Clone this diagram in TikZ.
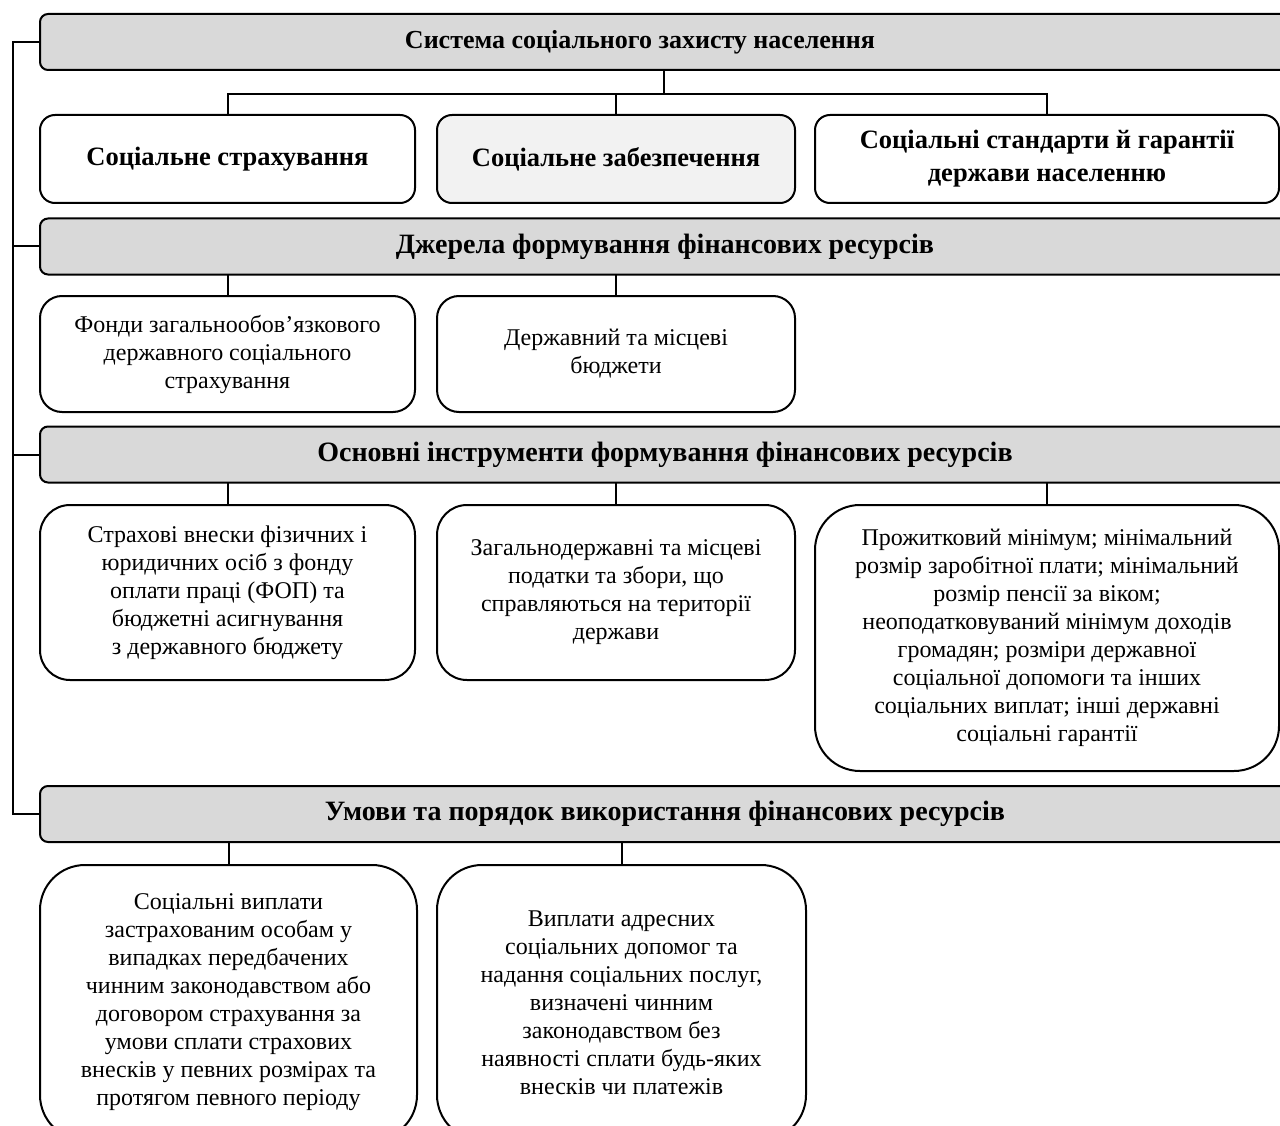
\documentclass[tikz,border=0pt]{standalone}
\usepackage{fontspec}
\setmainfont{Liberation Serif}
\definecolor{bargray}{HTML}{D9D9D9}
\definecolor{palegray}{HTML}{F2F2F2}
\begin{document}
\begin{tikzpicture}[x=1pt,y=-1pt,
  line width=2pt,
  bar/.style={draw=black, fill=bargray, rounded corners=8pt, inner sep=0pt, outer sep=0pt,
    minimum width=1250pt, minimum height=56pt, font=\fontsize{28}{32}\selectfont\bfseries},
  box/.style={draw=black, fill=white, inner sep=0pt, outer sep=0pt, align=center,
    font=\fontsize{24}{28}\selectfont},
  headbox/.style={box, rounded corners=15pt, minimum height=88pt,
    font=\fontsize{26.5}{33}\selectfont\bfseries},
  conn/.style={draw=black, line width=2pt}
]
\useasboundingbox (0,0) rectangle (1280,1126);
\fill[white] (0,0) rectangle (1280,1126);
\clip (0,0) rectangle (1280,1126);

% header bars
\node[bar, font=\fontsize{26}{30}\selectfont\bfseries] (bar1) at (665,42) {\hspace*{-50pt}Система соціального захисту населення};
\node[bar] (bar2) at (665,246.5) {Джерела формування фінансових ресурсів};
\node[bar] (bar3) at (665,454.5) {Основні інструменти формування фінансових ресурсів};
\node[bar] (bar4) at (665,814) {Умови та порядок використання фінансових ресурсів};

% row 1
\node[headbox, minimum width=375pt] (r1a) at (227.5,159) {Соціальне страхування};
\node[headbox, fill=palegray, minimum width=358pt] (r1b) at (616,159) {Соціальне забезпечення};
\node[headbox, minimum width=464pt] (r1c) at (1047,159) {Соціальні стандарти й гарантії\\держави населенню};

% row 2
\node[box, rounded corners=22pt, minimum width=375pt, minimum height=116pt] (r2a) at (227.5,354) {Фонди загальнообов’язкового\\державного соціального\\страхування};
\node[box, rounded corners=22pt, minimum width=358pt, minimum height=116pt] (r2b) at (616,354) {Державний та місцеві\\бюджети};

% row 3
\node[box, rounded corners=30pt, minimum width=375pt, minimum height=175pt] (r3a) at (227.5,592.5) {Страхові внески фізичних і\\юридичних осіб з фонду\\оплати праці (ФОП) та\\бюджетні асигнування\\з державного бюджету};
\node[box, rounded corners=30pt, minimum width=358pt, minimum height=175pt] (r3b) at (616,592.5) {Загальнодержавні та місцеві\\податки та збори, що\\справляються на території\\держави};
\node[box, rounded corners=45pt, minimum width=464pt, minimum height=266pt] (r3c) at (1047,638) {Прожитковий мінімум; мінімальний\\розмір заробітної плати; мінімальний\\розмір пенсії за віком;\\неоподатковуваний мінімум доходів\\громадян; розміри державної\\соціальної допомоги та інших\\соціальних виплат; інші державні\\соціальні гарантії};

% row 4
\node[box, rounded corners=45pt, minimum width=377pt, minimum height=275pt] (r4a) at (228.5,1002.5) {Соціальні виплати\\застрахованим особам у\\випадках передбачених\\чинним законодавством або\\договором страхування за\\умови сплати страхових\\внесків у певних розмірах та\\протягом певного періоду};
\node[box, rounded corners=45pt, minimum width=369pt, minimum height=275pt] (r4b) at (621.5,1002.5) {Виплати адресних\\соціальних допомог та\\надання соціальних послуг,\\визначені чинним\\законодавством без\\наявності сплати будь-яких\\внесків чи платежів};

% row 1 connectors
\coordinate (j1) at (664,94);
\draw[conn] (bar1.south -| j1) -- (j1);
\draw[conn] (r1a.north) |- (j1) -| (r1c.north);
\draw[conn] (r1b.north) -- (r1b.north |- j1);

% row 2 connectors
\draw[conn] (r2a.north) -- (r2a.north |- bar2.south);
\draw[conn] (r2b.north) -- (r2b.north |- bar2.south);

% row 3 connectors
\draw[conn] (r3a.north) -- (r3a.north |- bar3.south);
\draw[conn] (r3b.north) -- (r3b.north |- bar3.south);
\draw[conn] (r3c.north) -- (r3c.north |- bar3.south);

% row 4 connectors
\draw[conn] (r4a.north) -- (r4a.north |- bar4.south);
\draw[conn] (r4b.north) -- (r4b.north |- bar4.south);

% left bracket
\coordinate (L) at (13,42);
\draw[conn] (bar1.west) -- (bar1.west -| L) |- (bar4.west);
\draw[conn] (bar2.west) -- (bar2.west -| L);
\draw[conn] (bar3.west) -- (bar3.west -| L);
\end{tikzpicture}
\end{document}
